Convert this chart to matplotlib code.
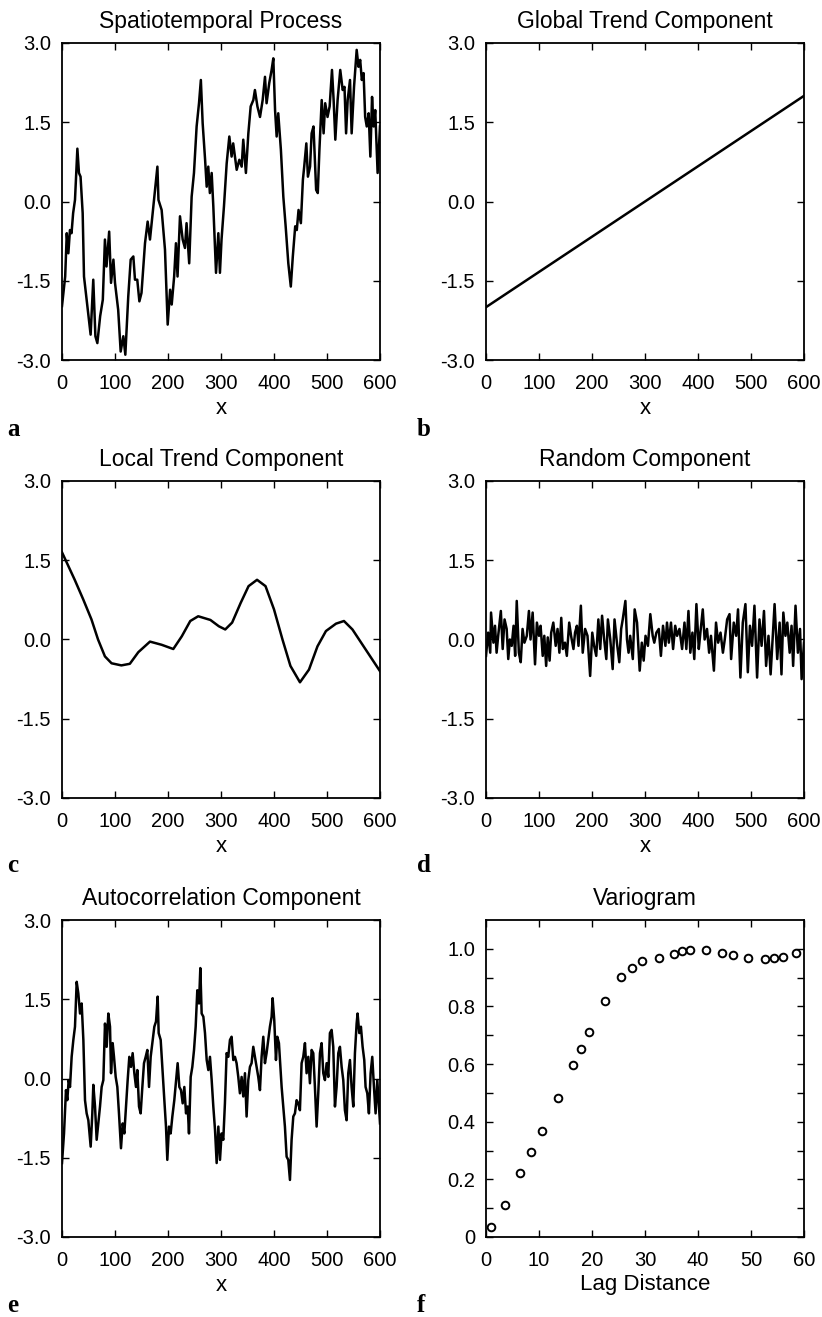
import matplotlib
matplotlib.use("Agg")
import matplotlib.pyplot as plt

plt.rcParams['font.family'] = ['Liberation Sans', 'DejaVu Sans']

# (x, value)
process_pts = [
    (0, -1.98), (6, -1.42), (9, -0.6), (12, -0.98), (15, -0.54), (18, -0.6), (21, -0.22), (24.5, 0.03), (29, 1.0), (32, 0.54),
    (35, 0.47), (39, -0.22), (41.5, -1.42), (45, -1.73), (48, -1.98), (54, -2.52), (59, -1.48), (63, -2.55), (66.7, -2.68), (72, -2.17),
    (77, -1.86), (81, -0.72), (84, -1.23), (89, -0.57), (92.5, -1.54), (97, -1.1), (100, -1.54), (106, -2.05), (110.7, -2.84), (115.7, -2.55),
    (119.5, -2.9), (125, -1.8), (129.6, -1.1), (134.6, -1.04), (137.7, -1.48), (142, -1.48), (146, -1.89), (150, -1.73), (156.6, -0.79), (161.6, -0.38),
    (166, -0.72), (171, -0.22), (175.5, 0.22), (180, 0.66), (182, 0.03), (188, -0.16), (194.3, -0.91), (199.4, -2.33), (204, -1.67), (207, -1.95),
    (211.6, -1.42), (215, -0.79), (218, -1.42), (222.6, -0.28), (227.7, -0.72), (232, -0.88), (235, -0.41), (240, -1.17), (244.6, 0.09), (249, 0.54),
    (254, 1.42), (258.5, 1.86), (262, 2.3), (265.4, 1.48), (270, 0.79), (273, 0.28), (276, 0.66), (279, 0.16), (282.4, 0.54), (285.5, -0.09),
    (290.6, -1.35), (295, -0.6), (298, -1.35), (301, -0.72), (305.6, -0.09), (310.7, 0.72), (315.7, 1.23), (320, 0.85), (323, 1.1), (329.6, 0.6),
    (334.6, 0.79), (339, 0.66), (342, 1.17), (347, 0.54), (351.6, 1.29), (356, 1.8), (361, 1.92), (364, 2.11), (368.7, 1.8), (373.6, 1.6),
    (378.6, 1.92), (383, 2.36), (386, 1.86), (391, 2.24), (395.5, 2.49), (398.7, 2.71), (402, 1.73), (405, 1.23), (408, 1.67), (413, 0.98),
    (417.6, 0.09), (422, -0.47), (427, -1.17), (431.7, -1.61), (435.5, -1.04), (440, -0.47), (443, -0.54), (446.3, -0.16), (450.7, -0.41), (454.5, 0.41),
    (457, 0.66), (461, 1.1), (464, 0.47), (468, 0.66), (471, 1.29), (474.5, 1.42), (479.5, 0.22), (482.6, 0.16), (485.7, 0.98), (490, 1.92),
    (493.6, 1.29), (496.6, 1.86), (501, 1.6), (505, 1.8), (509.4, 2.49), (512.5, 1.92), (515.7, 1.17), (520, 1.92), (525, 2.49), (529.6, 2.11),
    (533, 2.17), (536, 1.29), (539, 1.92), (543.4, 2.3), (546.5, 1.29), (551, 2.17), (556, 2.87), (559.4, 2.55), (562.6, 2.68), (565.7, 2.3),
    (569, 2.43), (572, 1.6), (575, 1.42), (578.6, 1.67), (581.8, 0.85), (585, 1.98), (588, 1.42), (591, 1.73), (595.5, 0.54), (600, 1.42),
]

global_x = [0, 600]
global_y = [-2.0, 2.0]

local_pts = [
    (0, 1.65), (24, 1.13), (40, 0.76), (55.6, 0.38), (68, 0.0), (81, -0.32), (93.5, -0.45), (112, -0.49), (128, -0.46), (144, -0.24),
    (166, -0.04), (188, -0.10), (210, -0.18), (226, 0.06), (242, 0.35), (257, 0.44), (280, 0.37), (296, 0.25), (308, 0.19), (321, 0.32),
    (337, 0.69), (352, 1.01), (368, 1.13), (384, 1.01), (400, 0.57), (416, 0.0), (431, -0.5), (449, -0.81), (466, -0.57), (482, -0.13),
    (498, 0.16), (517, 0.30), (532, 0.35), (548, 0.19), (573, -0.19), (600, -0.60),
]

random_pts = [
    (0, -0.31), (4, 0.13), (8, -0.25), (9.5, 0.51), (14, -0.06), (17, 0.26), (20, -0.25), (23, 0.07), (28, 0.54), (31.5, -0.18),
    (35, 0.38), (39, 0.2), (42, -0.37), (45, 0.0), (48.5, -0.12), (52, 0.26), (55, -0.31), (58, 0.73), (62, -0.25), (65.5, -0.43),
    (69, 0.2), (72.5, -0.06), (77, 0.07), (81, 0.54), (84, 0.0), (88, 0.51), (92.5, -0.47), (96, 0.32), (100, 0.07), (103, 0.26),
    (107, -0.31), (110, 0.07), (113.5, -0.5), (116.5, 0.04), (120, -0.4), (123, 0.13), (127, 0.32), (131.5, -0.12), (135, 0.2), (138.5, -0.25),
    (142, 0.41), (145, -0.18), (149, -0.06), (152.5, -0.31), (157, 0.32), (160.5, 0.07), (165, -0.18), (168, 0.13), (171.5, 0.26), (174.5, -0.12),
    (179, 0.64), (182.5, -0.25), (187, 0.2), (191.5, 0.07), (196.5, -0.69), (200.5, 0.13), (204, -0.12), (208, -0.31), (212, 0.38), (215.5, -0.18),
    (219, 0.45), (223, 0.0), (227, -0.37), (230, 0.38), (234.5, 0.0), (239, -0.56), (242.5, 0.38), (247, -0.06), (251.5, -0.43), (255, 0.2),
    (258, 0.38), (263, 0.73), (266, 0.0), (269, -0.25), (272, 0.07), (277, -0.37), (280.5, 0.57), (285, 0.32), (290, -0.59), (294, -0.06),
    (297.5, -0.4), (301, 0.07), (305.5, -0.12), (310, 0.48), (314.5, 0.07), (317.5, -0.06), (321.5, 0.13), (326, 0.2), (330, -0.31), (334, 0.26),
    (338.5, -0.12), (341.5, 0.32), (345, -0.06), (349, 0.32), (353, -0.18), (357, 0.26), (360.5, 0.07), (365, 0.2), (370, -0.18), (374.5, 0.32),
    (378, -0.18), (382, 0.54), (385.5, -0.25), (389.5, 0.13), (393, -0.37), (397, 0.67), (401.5, -0.18), (404.5, 0.13), (409, 0.57), (412.5, 0.0),
    (417, 0.2), (421, -0.25), (424.5, 0.07), (430, -0.59), (434, 0.32), (438, -0.06), (442.5, 0.13), (447, -0.25), (450.5, 0.0), (455, 0.38),
    (459.5, 0.48), (462.5, -0.37), (467.5, 0.32), (472, 0.07), (475.5, 0.57), (480, -0.72), (484.5, 0.32), (489.5, 0.67), (494, -0.62), (498, 0.26),
    (502, -0.12), (506.5, 0.64), (511.5, -0.72), (516, 0.38), (520, -0.12), (524.5, 0.54), (528.5, -0.5), (533, 0.07), (537, -0.66), (541.5, 0.13),
    (544.5, 0.67), (549.5, -0.37), (554, 0.32), (557.5, -0.66), (561, 0.51), (565, 0.07), (568.5, 0.32), (573, -0.25), (576.5, 0.26), (579.5, -0.5),
    (584, 0.64), (588.5, -0.25), (592.5, 0.2), (595.5, -0.75), (600, -0.06),
]

autocorr_pts = [
    (0, -1.6), (3.8, -1.04), (7.5, -0.22), (10, -0.41), (12.6, -0.03), (15.1, -0.16), (18.2, 0.41), (21.4, 0.73), (24.5, 0.98), (27.7, 1.83),
    (30.8, 1.61), (34, 1.23), (37.1, 1.42), (40.3, 0.73), (43.4, -0.41), (46.5, -0.66), (49.7, -0.79), (54.1, -1.29), (57.2, -0.66), (59.1, -0.12),
    (62.3, -0.53), (65.4, -1.16), (68.6, -0.85), (71.7, -0.53), (74.8, -0.16), (78, -0.03), (81.1, 1.04), (84.3, 0.6), (87.4, 1.23), (90.6, 0.98),
    (92.5, 0.1), (95.6, 0.67), (98.1, 0.41), (101.3, 0.03), (104.4, -0.16), (107.5, -0.66), (111.3, -1.32), (114.5, -0.85), (117.6, -1.04), (120.8, -0.53),
    (123.9, -0.03), (127, 0.41), (130.2, 0.22), (133.3, 0.48), (136.5, 0.1), (139.6, -0.16), (142.1, 0.16), (145.3, -0.53), (148.4, -0.66), (151.6, -0.16),
    (154.7, 0.29), (157.9, 0.41), (161, 0.54), (164.2, -0.16), (167.3, 0.41), (171.1, 0.73), (174.2, 0.98), (177.4, 1.08), (180.5, 1.55), (182.4, 0.86),
    (186.2, 0.73), (189.9, 0.1), (193.1, -0.41), (196.2, -0.91), (198.7, -1.54), (201.9, -0.91), (205, -1.04), (208.2, -0.72), (211.9, -0.41), (215.1, -0.06),
    (218.2, 0.29), (221.4, -0.16), (224.5, -0.22), (227.7, -0.47), (230.8, -0.16), (234, -0.66), (237.1, -0.53), (239.6, -1.04), (242.8, 0.03), (245.9, 0.22),
    (249.1, 0.54), (252.2, 0.98), (255.3, 1.67), (258.5, 1.42), (261, 2.09), (263.5, 1.23), (266.7, 1.17), (269.8, 0.86), (273, 0.35), (276.1, 0.16),
    (279.2, 0.41), (282.4, -0.03), (285.5, -0.53), (288.7, -0.97), (291.8, -1.6), (295, -0.91), (298.1, -1.54), (301.1, -1.04), (304.3, -1.16), (307.4, -0.47),
    (310.6, 0.48), (313.7, 0.41), (316.9, 0.73), (320, 0.79), (323.2, 0.35), (326.3, 0.41), (329.4, 0.29), (332.6, 0.03), (335.7, -0.28), (338.9, 0.03),
    (342, -0.34), (345.2, 0.1), (348.3, -0.72), (351.5, -0.03), (354.6, 0.22), (357.7, 0.29), (360.9, 0.6), (364, 0.41), (367.2, 0.22), (370.3, 0.03),
    (373.5, -0.22), (376.6, 0.41), (379.8, 0.79), (382.9, 0.29), (386, 0.48), (389.2, 0.73), (392.3, 0.98), (395.5, 1.17), (397.4, 1.52), (400.5, 1.1),
    (403.7, 0.35), (406.2, 0.79), (409.3, 0.67), (411.2, 0.35), (414.4, -0.16), (417.5, -0.53), (420.6, -0.91), (423.8, -1.48), (426.9, -1.54), (430.1, -1.92),
    (433.2, -1.16), (436.4, -0.72), (439.5, -0.66), (442.7, -0.41), (445.8, -0.47), (448.9, -0.6), (452.1, 0.29), (455.2, 0.41), (458.4, 0.67), (461.5, 0.1),
    (464.7, 0.41), (467.8, -0.09), (471, 0.54), (474.1, 0.48), (477.2, -0.16), (480.4, -0.91), (483.5, -0.28), (486.7, 0.48), (489.8, 0.67), (493, 0.1),
    (496.1, -0.03), (499.3, 0.29), (502.4, 0.03), (505.5, 0.86), (508.7, 0.92), (511.8, 0.6), (515, -0.53), (518.1, -0.16), (521.3, 0.48), (524.4, 0.6),
    (527.6, 0.22), (530.7, -0.03), (533.8, -0.6), (537, -0.79), (540.1, 0.1), (543.3, 0.35), (546.4, -0.16), (549.6, -0.53), (552.7, 0.48), (555.9, 1.04),
    (557.7, 1.23), (560.9, 0.86), (564, 0.98), (567.2, 0.6), (570.3, 0.35), (572.8, -0.16), (576, -0.28), (579.1, -0.66), (582.3, 0.1), (585.4, 0.41),
    (588.6, -0.16), (591.7, -0.66), (594.9, -0.03), (600, -0.85),
]

lag = [1.0, 3.5, 6.5, 8.5, 10.5, 13.5, 16.5, 18.0, 19.5, 22.5, 25.5, 27.5, 29.5, 32.6, 35.5,
       37.0, 38.5, 41.6, 44.5, 46.6, 49.5, 52.6, 54.4, 56.1, 58.5]
gamma = [0.033, 0.112, 0.223, 0.294, 0.369, 0.481, 0.596, 0.654, 0.712, 0.818, 0.902, 0.933, 0.956, 0.969, 0.982,
         0.991, 0.995, 0.995, 0.987, 0.979, 0.969, 0.965, 0.968, 0.972, 0.984]

x_ticks = [0, 100, 200, 300, 400, 500, 600]
y_ticks = [-3.0, -1.5, 0.0, 1.5, 3.0]
y_labels = ['-3.0', '-1.5', '0.0', '1.5', '3.0']
lag_ticks = [0, 10, 20, 30, 40, 50, 60]
gamma_ticks = [0, 0.1, 0.2, 0.3, 0.4, 0.5, 0.6, 0.7, 0.8, 0.9, 1.0]
gamma_labels = ['0', '', '0.2', '', '0.4', '', '0.6', '', '0.8', '', '1.0']

W, H = 822, 1317
fig = plt.figure(figsize=(W / 100, H / 100), dpi=100)


def make_ax(left, top):
    ax = fig.add_axes([left / W, 1 - (top + 317) / H, 318 / W, 317 / H])
    ax.tick_params(direction='in', top=True, right=True, length=5, width=1,
                   labelsize=14.5, labeltop=False, labelright=False)
    ax.tick_params(axis='x', pad=10)
    ax.tick_params(axis='y', pad=8)
    for s in ax.spines.values():
        s.set_linewidth(1.3)
    return ax


def series_ax(ax, title, pts):
    xs = [p[0] for p in pts]
    ys = [p[1] for p in pts]
    ax.plot(xs, ys, color='black', lw=1.8)
    ax.set_xlim(0, 600)
    ax.set_ylim(-3, 3)
    ax.set_xticks(x_ticks)
    ax.set_yticks(y_ticks)
    ax.set_yticklabels(y_labels)
    ax.set_title(title, fontsize=16.5, pad=11)
    ax.set_xlabel('x', fontsize=16, labelpad=4)


ax_a = make_ax(62, 43)
series_ax(ax_a, 'Spatiotemporal Process', process_pts)

ax_b = make_ax(486, 43)
series_ax(ax_b, 'Global Trend Component', list(zip(global_x, global_y)))

ax_c = make_ax(62, 481)
series_ax(ax_c, 'Local Trend Component', local_pts)

ax_d = make_ax(486, 481)
series_ax(ax_d, 'Random Component', random_pts)

ax_e = make_ax(62, 920)
series_ax(ax_e, 'Autocorrelation Component', autocorr_pts)

ax_f = make_ax(486, 920)
ax_f.plot(lag, gamma, linestyle='none', marker='o', markersize=5.5,
          markerfacecolor='white', markeredgecolor='black', markeredgewidth=1.4)
ax_f.set_xlim(0, 60)
ax_f.set_ylim(0, 1.1)
ax_f.set_xticks(lag_ticks)
ax_f.set_yticks(gamma_ticks)
ax_f.set_yticklabels(gamma_labels)
ax_f.set_title('Variogram', fontsize=16.5, pad=11)
ax_f.set_xlabel('Lag Distance', fontsize=16, labelpad=3)

# panel letters
for letter, px, py in [('a', 7, 429), ('b', 417, 429), ('c', 7, 866),
                       ('d', 417, 866), ('e', 7, 1305), ('f', 417, 1305)]:
    fig.text(px / W, 1 - py / H, letter, family=['Liberation Serif', 'DejaVu Serif'],
             weight='bold', fontsize=18, va='center', ha='left')

fig.savefig('out.png', dpi=100)
